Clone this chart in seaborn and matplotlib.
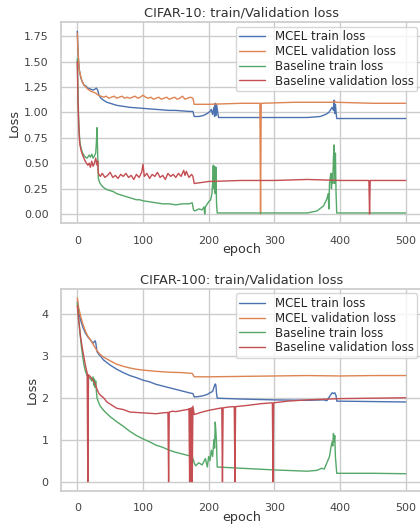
import numpy as np
import pandas as pd
import matplotlib
matplotlib.use("Agg")
import matplotlib.pyplot as plt
import seaborn as sns

# ---- CIFAR-10 curves ----
c10_mcel_train_epoch = [0, 1, 2, 3, 5, 7, 10, 13, 16, 20,
                        24, 27, 29, 31, 33, 36, 40, 45, 50, 55,
                        60, 70, 80, 90, 100, 110, 120, 130, 140, 150,
                        160, 170, 176, 178, 185, 192, 198, 202, 204, 206,
                        208, 209, 210, 211, 212, 215, 250, 300, 350, 370,
                        378, 383, 386, 388, 390, 391, 392, 393, 394, 395,
                        400, 450, 500]
c10_mcel_train_loss = [1.80, 1.62, 1.50, 1.42, 1.35, 1.31, 1.27, 1.26, 1.24, 1.23,
                       1.22, 1.23, 1.24, 1.22, 1.17, 1.14, 1.12, 1.10, 1.09, 1.08,
                       1.07, 1.06, 1.05, 1.045, 1.04, 1.035, 1.03, 1.025, 1.02, 1.02,
                       1.015, 1.01, 1.01, 0.96, 0.96, 0.97, 0.99, 1.01, 1.03, 0.98,
                       1.05, 0.96, 1.09, 0.97, 1.08, 0.95, 0.95, 0.95, 0.95, 0.96,
                       0.98, 1.00, 1.03, 1.05, 1.02, 1.12, 0.99, 1.08, 1.00, 0.94,
                       0.94, 0.94, 0.94]

c10_mcel_val_epoch = [0, 1, 2, 3, 5, 7, 10, 13, 16, 20,
                      24, 28, 32, 36, 40, 44, 48, 52, 56, 60,
                      64, 68, 72, 76, 80, 84, 88, 92, 96, 100,
                      104, 108, 112, 116, 120, 124, 128, 132, 136, 140,
                      144, 148, 152, 156, 160, 164, 168, 172, 176, 178,
                      200, 250, 278, 279, 280, 330, 390, 392, 394, 450,
                      500]
c10_mcel_val_loss = [1.78, 1.60, 1.50, 1.42, 1.36, 1.31, 1.27, 1.25, 1.23, 1.21,
                     1.20, 1.19, 1.17, 1.16, 1.15, 1.16, 1.14, 1.15, 1.16, 1.14,
                     1.15, 1.16, 1.14, 1.15, 1.14, 1.15, 1.16, 1.14, 1.15, 1.17,
                     1.15, 1.14, 1.15, 1.13, 1.14, 1.15, 1.13, 1.14, 1.15, 1.13,
                     1.14, 1.15, 1.13, 1.14, 1.16, 1.13, 1.14, 1.15, 1.14, 1.08,
                     1.08, 1.09, 1.09, 0.00, 1.09, 1.10, 1.10, 1.11, 1.10, 1.09,
                     1.09]

c10_base_train_epoch = [0, 1, 2, 3, 4, 6, 8, 10, 12, 15,
                        18, 20, 22, 24, 26, 28, 29, 30, 31, 32,
                        34, 37, 40, 45, 50, 55, 60, 65, 70, 75,
                        80, 85, 90, 95, 100, 110, 120, 130, 140, 150,
                        160, 170, 175, 177, 179, 185, 190, 193, 194, 195,
                        198, 200, 203, 205, 206, 207, 208, 209, 210, 211,
                        212, 213, 250, 300, 350, 365, 375, 380, 382, 383,
                        384, 386, 387, 388, 389, 390, 391, 392, 393, 394,
                        395, 450, 500]
c10_base_train_loss = [1.53, 1.20, 0.95, 0.80, 0.70, 0.64, 0.60, 0.58, 0.56, 0.55,
                       0.58, 0.56, 0.59, 0.55, 0.57, 0.60, 0.70, 0.85, 0.60, 0.35,
                       0.31, 0.28, 0.26, 0.24, 0.23, 0.22, 0.20, 0.19, 0.18, 0.17,
                       0.16, 0.15, 0.14, 0.14, 0.13, 0.12, 0.11, 0.10, 0.10, 0.09,
                       0.10, 0.10, 0.11, 0.04, 0.03, 0.05, 0.04, 0.07, 0.00, 0.07,
                       0.10, 0.12, 0.14, 0.20, 0.30, 0.48, 0.25, 0.47, 0.20, 0.46,
                       0.10, 0.01, 0.01, 0.01, 0.01, 0.03, 0.08, 0.15, 0.20, 0.05,
                       0.30, 0.40, 0.25, 0.40, 0.30, 0.55, 0.68, 0.30, 0.60, 0.20,
                       0.01, 0.01, 0.01]

c10_base_val_epoch = [0, 1, 2, 3, 4, 6, 8, 10, 12, 14,
                      16, 18, 20, 22, 24, 26, 28, 30, 31, 32,
                      35, 38, 42, 46, 50, 54, 58, 62, 66, 70,
                      74, 78, 82, 86, 90, 94, 98, 100, 102, 106,
                      110, 114, 118, 122, 126, 130, 134, 138, 142, 146,
                      150, 154, 158, 162, 164, 166, 170, 174, 176, 178,
                      200, 250, 300, 350, 400, 444, 445, 446, 500]
c10_base_val_loss = [1.50, 1.10, 0.90, 0.75, 0.68, 0.62, 0.58, 0.55, 0.52, 0.50,
                     0.48, 0.50, 0.46, 0.52, 0.47, 0.50, 0.55, 0.48, 0.52, 0.40,
                     0.37, 0.40, 0.36, 0.38, 0.41, 0.36, 0.38, 0.35, 0.39, 0.37,
                     0.40, 0.36, 0.38, 0.34, 0.39, 0.36, 0.41, 0.49, 0.37, 0.40,
                     0.35, 0.39, 0.37, 0.41, 0.36, 0.38, 0.34, 0.40, 0.37, 0.39,
                     0.36, 0.40, 0.37, 0.43, 0.38, 0.42, 0.36, 0.39, 0.37, 0.30,
                     0.32, 0.33, 0.33, 0.34, 0.33, 0.33, 0.00, 0.33, 0.33]

# ---- CIFAR-100 curves ----
c100_mcel_train_epoch = [0, 2, 5, 8, 12, 16, 20, 24, 27, 28,
                         30, 32, 36, 40, 50, 60, 70, 80, 90, 100,
                         110, 120, 130, 140, 150, 160, 170, 176, 178, 185,
                         192, 198, 202, 206, 208, 210, 211, 212, 213, 250,
                         300, 350, 375, 380, 385, 388, 390, 392, 394, 395,
                         450, 500]
c100_mcel_train_loss = [4.30, 4.05, 3.85, 3.70, 3.55, 3.45, 3.38, 3.30, 3.36, 3.32,
                        3.10, 3.05, 2.98, 2.90, 2.78, 2.68, 2.60, 2.53, 2.48, 2.42,
                        2.38, 2.32, 2.28, 2.24, 2.20, 2.16, 2.12, 2.10, 2.02, 2.03,
                        2.05, 2.08, 2.12, 2.15, 2.25, 2.33, 2.30, 2.10, 1.99, 1.97,
                        1.95, 1.94, 1.95, 1.93, 2.05, 2.12, 2.10, 2.12, 2.05, 1.92,
                        1.91, 1.90]

c100_mcel_val_epoch = [0, 2, 5, 8, 12, 16, 20, 25, 30, 35,
                       40, 50, 60, 70, 80, 90, 100, 120, 140, 160,
                       175, 178, 200, 250, 300, 350, 400, 450, 500]
c100_mcel_val_loss = [4.38, 4.15, 3.95, 3.78, 3.60, 3.47, 3.38, 3.25, 3.12, 3.03,
                      2.97, 2.88, 2.80, 2.75, 2.71, 2.68, 2.66, 2.63, 2.61, 2.60,
                      2.58, 2.50, 2.50, 2.51, 2.52, 2.53, 2.52, 2.53, 2.53]

c100_base_train_epoch = [0, 2, 4, 6, 8, 10, 12, 15, 18, 20,
                         22, 24, 25, 26, 27, 28, 29, 30, 32, 35,
                         40, 50, 60, 70, 80, 90, 100, 110, 120, 130,
                         140, 150, 160, 170, 175, 178, 180, 185, 190, 195,
                         198, 200, 202, 204, 206, 208, 209, 210, 211, 212,
                         213, 250, 300, 350, 365, 372, 376, 380, 384, 386,
                         388, 389, 390, 391, 392, 393, 395, 450, 500]
c100_base_train_loss = [4.25, 3.90, 3.55, 3.25, 3.00, 2.80, 2.65, 2.52, 2.48, 2.45,
                        2.40, 2.50, 2.30, 2.45, 2.25, 2.40, 2.15, 2.00, 1.90, 1.80,
                        1.70, 1.55, 1.43, 1.32, 1.20, 1.10, 1.02, 0.95, 0.87, 0.82,
                        0.75, 0.70, 0.66, 0.62, 0.60, 0.45, 0.38, 0.45, 0.40, 0.55,
                        0.35, 0.60, 0.50, 0.75, 0.60, 1.00, 0.80, 1.42, 1.20, 0.90,
                        0.35, 0.32, 0.28, 0.25, 0.27, 0.32, 0.30, 0.45, 0.60, 0.80,
                        0.95, 0.85, 1.15, 0.95, 1.10, 0.60, 0.20, 0.20, 0.19]

c100_base_val_epoch = [0, 2, 5, 8, 12, 14, 15, 16, 17, 20,
                       24, 28, 30, 33, 36, 40, 45, 50, 60, 70,
                       80, 90, 100, 110, 120, 130, 138, 139, 140, 145,
                       150, 160, 168, 170, 171, 172, 173, 174, 175, 176,
                       178, 190, 200, 210, 220, 221, 222, 230, 239, 240,
                       241, 260, 280, 297, 298, 299, 320, 350, 400, 450,
                       500]
c100_base_val_loss = [4.20, 3.85, 3.45, 3.15, 2.80, 2.65, 2.60, 0.00, 2.55, 2.50,
                      2.42, 2.30, 2.20, 2.10, 2.05, 2.00, 1.90, 1.85, 1.75, 1.72,
                      1.66, 1.65, 1.64, 1.63, 1.62, 1.64, 1.65, 0.00, 1.66, 1.68,
                      1.67, 1.70, 1.72, 1.74, 0.00, 1.75, 0.00, 1.76, 0.00, 1.80,
                      1.60, 1.66, 1.70, 1.73, 1.76, 0.00, 1.76, 1.78, 1.79, 0.00,
                      1.79, 1.82, 1.86, 1.88, 0.00, 1.88, 1.92, 1.95, 1.98, 1.99,
                      2.00]

series_names = ["MCEL train loss", "MCEL validation loss",
                "Baseline train loss", "Baseline validation loss"]


def build_frame(curves):
    parts = []
    for name, (ep, loss) in zip(series_names, curves):
        parts.append(pd.DataFrame({"epoch": ep, "loss": loss, "series": name}))
    return pd.concat(parts, ignore_index=True)


c10_df = build_frame([(c10_mcel_train_epoch, c10_mcel_train_loss),
                      (c10_mcel_val_epoch, c10_mcel_val_loss),
                      (c10_base_train_epoch, c10_base_train_loss),
                      (c10_base_val_epoch, c10_base_val_loss)])
c100_df = build_frame([(c100_mcel_train_epoch, c100_mcel_train_loss),
                       (c100_mcel_val_epoch, c100_mcel_val_loss),
                       (c100_base_train_epoch, c100_base_train_loss),
                       (c100_base_val_epoch, c100_base_val_loss)])

sns.set_theme(style="whitegrid", palette="deep")
plt.rcParams["font.family"] = ["DejaVu Sans"]

fig = plt.figure(figsize=(4.2, 5.25), dpi=100)
ax_top = fig.add_axes([0.145, 0.575, 0.86, 0.383])
ax_bot = fig.add_axes([0.145, 0.065, 0.86, 0.385])

panels = [(ax_top, c10_df, "CIFAR-10: train/Validation loss"),
          (ax_bot, c100_df, "CIFAR-100: train/Validation loss")]

for ax, df, title in panels:
    sns.lineplot(data=df, x="epoch", y="loss", hue="series",
                 hue_order=series_names, estimator=None, sort=False,
                 linewidth=1.0, ax=ax)
    ax.set_xlim(-25, 525)
    ax.set_xticks([0, 100, 200, 300, 400, 500])
    ax.set_title(title, fontsize=9.4, color="#333333", pad=4)
    ax.set_xlabel("epoch", fontsize=9.2, color="#333333", labelpad=-2)
    ax.set_ylabel("Loss", fontsize=9.2, color="#333333", labelpad=2)
    ax.tick_params(labelsize=8, colors="#444444", pad=3)
    sns.move_legend(ax, "upper right", title=None, fontsize=8.5,
                    frameon=True, borderaxespad=0.4, handlelength=2.2,
                    labelspacing=0.15, borderpad=0.3)

fig.savefig("out.png", dpi=100)
